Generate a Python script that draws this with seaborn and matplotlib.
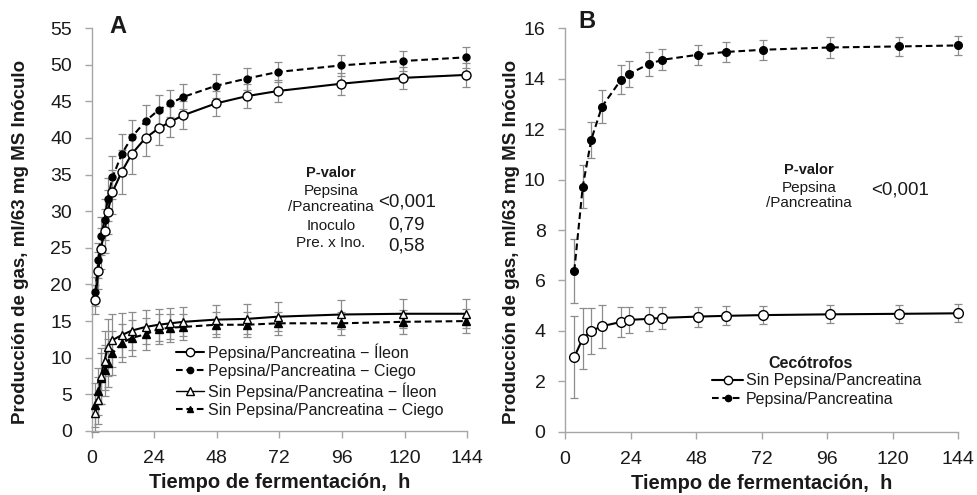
import matplotlib
matplotlib.use("Agg")
import matplotlib.pyplot as plt
import seaborn as sns
import numpy as np
from matplotlib.lines import Line2D

sns.set_theme(style="white")
plt.rcParams['font.family'] = ['Liberation Sans', 'DejaVu Sans']

# ---------------- Panel A data ----------------
time_a = [1.5, 2.6, 3.6, 5, 6.2, 8, 11.6, 15.4, 20.7, 25.7, 30.2, 35.2, 47.6, 59.5, 71.4, 95.8, 119.6, 143.6]
pep_ileon = [17.9, 21.9, 24.9, 27.3, 29.9, 32.6, 35.4, 37.8, 40.0, 41.3, 42.2, 43.1, 44.7, 45.7, 46.4, 47.4, 48.2, 48.6]
pep_ileon_err = [2.0, 2.5, 2.8, 3.0, 3.0, 3.0, 3.0, 2.7, 2.5, 2.3, 2.1, 1.9, 1.7, 1.6, 1.5, 1.5, 1.5, 1.6]
pep_ciego = [19.0, 23.3, 26.6, 28.8, 31.6, 34.6, 37.8, 40.1, 42.3, 43.8, 44.7, 45.6, 47.1, 48.1, 49.0, 49.9, 50.5, 51.0]
pep_ciego_err = [2.0, 2.4, 2.6, 2.8, 2.9, 2.9, 2.8, 2.4, 2.2, 2.0, 1.8, 1.7, 1.6, 1.5, 1.4, 1.4, 1.4, 1.4]
sin_ileon = [2.5, 4.2, 7.5, 9.6, 11.4, 12.4, 13.1, 13.7, 14.2, 14.5, 14.7, 14.9, 15.2, 15.3, 15.6, 15.9, 16.0, 16.0]
sin_ileon_err = [2.6, 3.2, 3.8, 4.0, 3.9, 3.6, 3.0, 2.6, 2.3, 2.2, 2.1, 2.0, 2.0, 2.0, 2.0, 2.0, 2.0, 2.0]
sin_ciego = [3.5, 5.4, 7.2, 8.3, 9.3, 10.6, 12.0, 12.7, 13.2, 13.9, 14.1, 14.2, 14.5, 14.5, 14.7, 14.7, 14.9, 15.0]
sin_ciego_err = [3.0, 3.2, 3.5, 3.5, 3.3, 3.0, 2.6, 2.4, 2.2, 2.0, 1.9, 1.8, 1.7, 1.7, 1.6, 1.6, 1.6, 1.6]

# ---------------- Panel B data ----------------
time_b = [3.4, 6.5, 9.6, 13.5, 20.6, 23.5, 30.6, 35.6, 48.6, 58.8, 72.7, 97.2, 122.2, 144]
cec_pep = [6.38, 9.72, 11.57, 12.88, 13.96, 14.18, 14.57, 14.74, 14.94, 15.05, 15.14, 15.23, 15.27, 15.31]
cec_pep_err = [1.28, 0.85, 0.70, 0.66, 0.59, 0.50, 0.47, 0.42, 0.40, 0.40, 0.40, 0.40, 0.38, 0.38]
cec_sin = [2.97, 3.70, 4.00, 4.19, 4.36, 4.44, 4.48, 4.52, 4.57, 4.60, 4.63, 4.66, 4.68, 4.70]
cec_sin_err = [1.63, 1.20, 0.92, 0.85, 0.59, 0.52, 0.47, 0.44, 0.40, 0.38, 0.36, 0.36, 0.36, 0.36]

xticks = [0, 24, 48, 72, 96, 120, 144]
yticks_a = [0, 5, 10, 15, 20, 25, 30, 35, 40, 45, 50, 55]
yticks_b = [0, 2, 4, 6, 8, 10, 12, 14, 16]

spine_c = '#a6a6a6'
err_c = '#8c8c8c'
txt_c = '#1a1a1a'

fig = plt.figure(figsize=(9.78, 4.95), dpi=100)
axA = fig.add_axes([0.0936, 0.1293, 0.384, 0.8141])
axB = fig.add_axes([0.5777, 0.1273, 0.402, 0.8161])


def series(ax, x, y, e, ls, marker, mfc, ms, lw=1.5, z=3):
    ax.errorbar(x, y, yerr=e, fmt='none', ecolor=err_c, elinewidth=0.9,
                capsize=3, capthick=0.9, zorder=z - 1)
    sns.lineplot(x=x, y=y, ax=ax, color='black', linestyle=ls, linewidth=lw,
                 marker=marker, markersize=ms, markerfacecolor=mfc,
                 markeredgecolor='black', markeredgewidth=1.0, zorder=z,
                 legend=False, errorbar=None)


dash = (0, (3.2, 1.8))
# Panel A
series(axA, time_a, sin_ciego, sin_ciego_err, dash, '^', 'black', 5.5)
series(axA, time_a, sin_ileon, sin_ileon_err, '-', '^', 'white', 6)
series(axA, time_a, pep_ciego, pep_ciego_err, dash, 'o', 'black', 5)
series(axA, time_a, pep_ileon, pep_ileon_err, '-', 'o', 'white', 6.5)

# Panel B
series(axB, time_b, cec_sin, cec_sin_err, '-', 'o', 'white', 7)
series(axB, time_b, cec_pep, cec_pep_err, dash, 'o', 'black', 5.5)


def style(ax, yticks, ymax, ylpad):
    ax.set_xlim(0, 144)
    ax.set_ylim(0, ymax)
    ax.set_xticks(xticks)
    ax.set_yticks(yticks)
    for s in ['top', 'right']:
        ax.spines[s].set_visible(False)
    for s in ['left', 'bottom']:
        ax.spines[s].set_color(spine_c)
        ax.spines[s].set_linewidth(1.0)
    ax.tick_params(axis='both', which='major', direction='out', length=5,
                   width=1.0, color=spine_c, labelsize=14, labelcolor=txt_c,
                   pad=9, bottom=True, left=True)
    ax.set_xlabel('Tiempo de fermentación,  h', fontsize=14.5,
                  fontweight='bold', color=txt_c, labelpad=4)
    ax.set_ylabel('Producción de gas, ml/63 mg MS Inóculo', fontsize=13.5,
                  fontweight='bold', color=txt_c, labelpad=ylpad)
    ax.yaxis.label.set_y(0.47)
    ax.grid(False)
    ax.set_facecolor('white')
    for c in ax.get_children():
        if hasattr(c, 'set_clip_on'):
            c.set_clip_on(False)


style(axA, yticks_a, 55, 15)
style(axB, yticks_b, 16, 3)

axA.text(0.07, 1.005, 'A', transform=axA.transAxes, fontsize=17,
         fontweight='bold', color=txt_c, ha='center', va='center')
axB.text(0.056, 1.015, 'B', transform=axB.transAxes, fontsize=17,
         fontweight='bold', color=txt_c, ha='center', va='center')

# P-valor A
fx = lambda px: px / 978
fy = lambda py: 1 - py / 495
fig.text(fx(331), fy(173), 'P-valor', fontsize=10.5, fontweight='bold', ha='center', va='center', color=txt_c)
fig.text(fx(331), fy(191), 'Pepsina', fontsize=11, ha='center', va='center', color=txt_c)
fig.text(fx(331), fy(207), '/Pancreatina', fontsize=11, ha='center', va='center', color=txt_c)
fig.text(fx(331), fy(226), 'Inoculo', fontsize=11, ha='center', va='center', color=txt_c)
fig.text(fx(331), fy(243), 'Pre. x Ino.', fontsize=11, ha='center', va='center', color=txt_c)
fig.text(fx(407), fy(202), '<0,001', fontsize=13.5, ha='center', va='center', color=txt_c)
fig.text(fx(407), fy(225), '0,79', fontsize=13.5, ha='center', va='center', color=txt_c)
fig.text(fx(407), fy(246), '0,58', fontsize=13.5, ha='center', va='center', color=txt_c)

# P-valor B
fig.text(fx(809), fy(170), 'P-valor', fontsize=10.5, fontweight='bold', ha='center', va='center', color=txt_c)
fig.text(fx(809), fy(188), 'Pepsina', fontsize=11, ha='center', va='center', color=txt_c)
fig.text(fx(809), fy(203), '/Pancreatina', fontsize=11, ha='center', va='center', color=txt_c)
fig.text(fx(900), fy(190), '<0,001', fontsize=13.5, ha='center', va='center', color=txt_c)

# Legends
hA = [
    Line2D([], [], color='black', ls='-', lw=1.5, marker='o', mfc='white', mec='black', ms=6),
    Line2D([], [], color='black', ls=dash, lw=1.5, marker='o', mfc='black', mec='black', ms=4.5),
    Line2D([], [], color='black', ls='-', lw=1.0, marker='^', mfc='white', mec='black', ms=6),
    Line2D([], [], color='black', ls=dash, lw=1.5, marker='^', mfc='black', mec='black', ms=5),
]
labA = ['Pepsina/Pancreatina \u2212 \u00cdleon', 'Pepsina/Pancreatina \u2212 Ciego',
        'Sin Pepsina/Pancreatina \u2212 \u00cdleon', 'Sin Pepsina/Pancreatina \u2212 Ciego']
legA = axA.legend(hA, labA, loc='upper left', bbox_to_anchor=(0.226, 0.218),
                  frameon=False, fontsize=11.5, handlelength=1.75, handletextpad=0.2,
                  labelspacing=0.2, borderpad=0, borderaxespad=0)
for t in legA.get_texts():
    t.set_color(txt_c)

hB = [
    Line2D([], [], color='black', ls='-', lw=1.5, marker='o', mfc='white', mec='black', ms=6),
    Line2D([], [], color='black', ls=dash, lw=1.5, marker='o', mfc='black', mec='black', ms=4.5),
]
labB = ['Sin Pepsina/Pancreatina', 'Pepsina/Pancreatina']
legB = axB.legend(hB, labB, loc='upper left', bbox_to_anchor=(0.375, 0.145),
                  frameon=False, fontsize=11.5, handlelength=1.9, handletextpad=0.2,
                  labelspacing=0.2, borderpad=0, borderaxespad=0)
for t in legB.get_texts():
    t.set_color(txt_c)
fig.text(fx(811), fy(363), 'Cecótrofos', fontsize=11.5, fontweight='bold',
         ha='center', va='center', color=txt_c)

fig.savefig('out.png', dpi=100, facecolor='white')
